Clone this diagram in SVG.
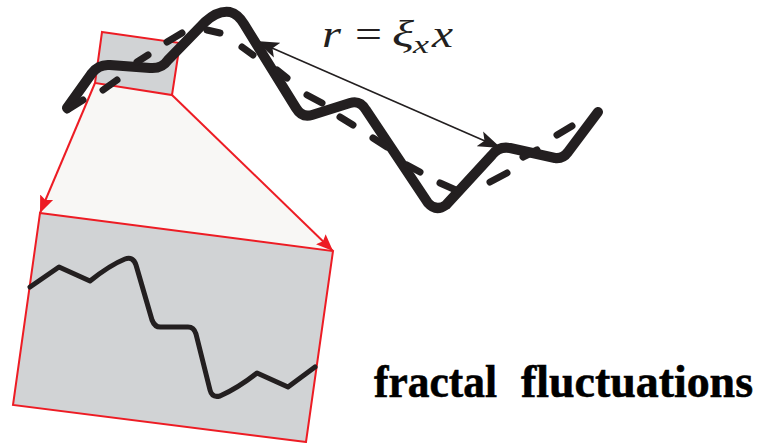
<svg xmlns="http://www.w3.org/2000/svg" width="763" height="443" viewBox="0 0 763 443">
<style>
.box{fill:#d1d3d5;stroke:#ed1c24;stroke-width:2;stroke-linejoin:miter}
.beam{fill:#f8f7f5;stroke:none}
.red{stroke:#ed1c24;stroke-width:2;fill:none}
.curve{fill:none;stroke:#231f20;stroke-linecap:round;stroke-linejoin:round}
.math{font-family:"Liberation Serif","Times New Roman",serif;font-style:italic;fill:#231f20}
.label{font-family:"Liberation Serif","Times New Roman",serif;font-weight:bold;font-size:47px;fill:#000;stroke:#000;stroke-width:0.6}
</style>
<defs>
<marker id="blk" viewBox="0 -9 24 18" refX="23" refY="0" markerWidth="24" markerHeight="18" markerUnits="userSpaceOnUse" orient="auto-start-reverse">
<path d="M0,-8 L23,0 L0,8 L5,0 z" fill="#231f20"/>
</marker>
<marker id="redhead" viewBox="0 -8 18 16" refX="17" refY="0" markerWidth="18" markerHeight="16" markerUnits="userSpaceOnUse" orient="auto">
<path d="M0,-7 L17,0 L0,7 L3,0 z" fill="#ed1c24"/>
</marker>
</defs>

<g id="zoom-beam">
<polygon class="beam" points="95,83 172,95 333,250 40,213"/>
</g>

<g id="small-box">
<polygon class="box" points="102,32 180,43 172,95 95,83"/>
</g>

<g id="big-box">
<polygon class="box" points="40,213 333,251 306,442 13,405"/>
<path class="curve" stroke-width="5" d="M30,287 L59,267 L90,281 Q110,265 125,259 Q133,256 136,265 L152,320 Q155,328 162,327 L188,327 Q194,327 196,334 L210,390 Q212,398 220,396 Q238,388 257,373 L288,387 L315,367"/>
</g>

<g id="connectors">
<line class="red" x1="95" y1="83" x2="40" y2="213" marker-end="url(#redhead)"/>
<line class="red" x1="172" y1="95" x2="333" y2="251" marker-end="url(#redhead)"/>
<line x1="256" y1="41" x2="501" y2="148" stroke="#231f20" stroke-width="1.6" marker-start="url(#blk)" marker-end="url(#blk)"/>
</g>

<g id="main-curve">
<path class="curve" stroke-width="10" d="M67,108 L92,73 Q99,64 110,65 L150,68 Q162,69 168,60 L205,22 Q218,10 230,12 Q238,14 244,24 L296,108 Q302,118 312,115 L350,103 Q360,100 366,110 L428,203 Q436,212 446,205 L492,155 Q499,146 510,148 L555,158 Q563,159 568,152 L598,112"/>
</g>

<g id="dashed-curve">
<path class="curve" stroke-width="7" d="M67,110 L83,100 M103,90 L117,80 M137,62 L148,55 M167,42 L182,33 M207,30 L220,33 M242,47 L253,55 M277,70 L287,78 M307,95 L322,103 M340,117 L353,125 M373,138 L387,147 M407,165 L420,172 M440,183 L458,191 M490,182 L507,173 M523,157 L537,150 M557,135 L572,126"/>
</g>

<g id="formula">
<text class="math" x="322" y="47" font-size="38" textLength="19" lengthAdjust="spacingAndGlyphs">r</text>
<text x="355" y="47" font-size="38" font-family="Liberation Serif, serif" fill="#231f20" textLength="27" lengthAdjust="spacingAndGlyphs">=</text>
<text class="math" x="392" y="47" font-size="38" textLength="22" lengthAdjust="spacingAndGlyphs">ξ</text>
<text class="math" x="413" y="53" font-size="26" textLength="16" lengthAdjust="spacingAndGlyphs">x</text>
<text class="math" x="432" y="47" font-size="38" textLength="21" lengthAdjust="spacingAndGlyphs">x</text>
</g>

<g id="caption">
<text class="label" x="374" y="397" textLength="123" lengthAdjust="spacingAndGlyphs">fractal</text>
<text class="label" x="521" y="397" textLength="232" lengthAdjust="spacingAndGlyphs">fluctuations</text>
</g>
</svg>
